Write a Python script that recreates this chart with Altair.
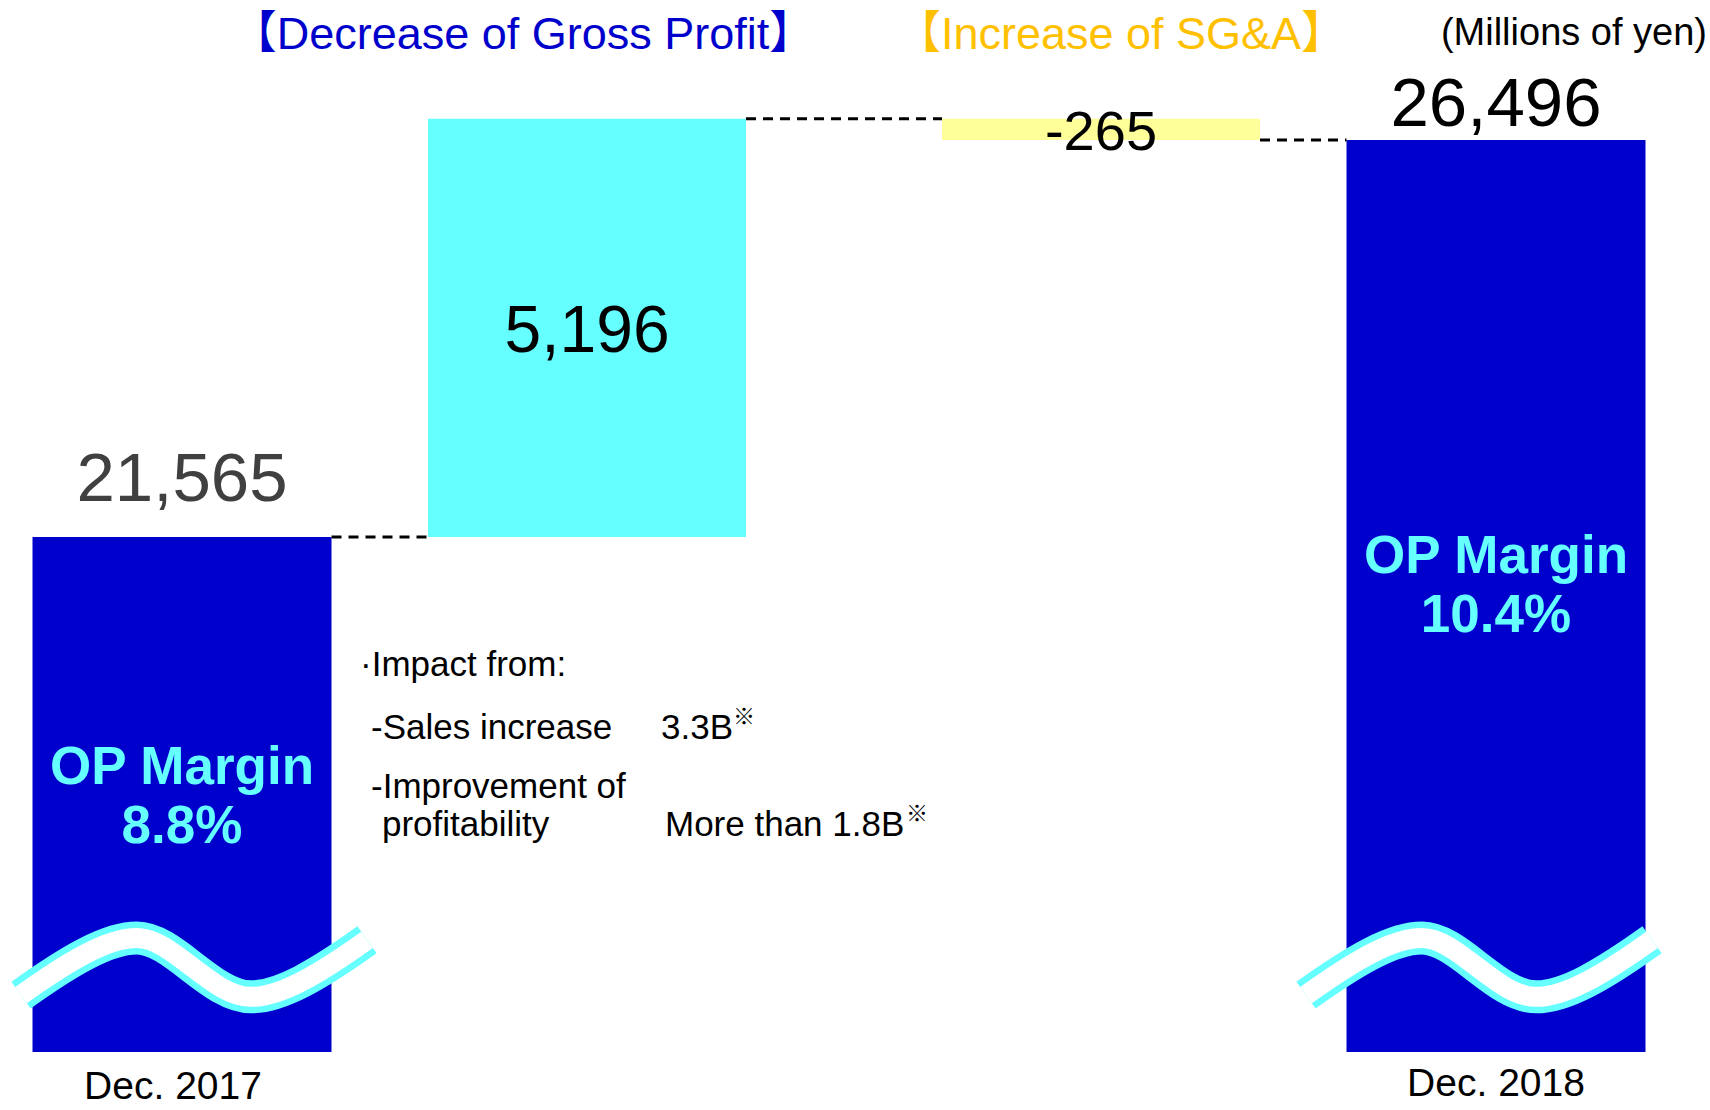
import altair as alt
import pandas as pd

# ---------------- data ----------------
steps = ["Dec. 2017", "Gross Profit", "SG&A", "Dec. 2018"]
total_steps = ["Dec. 2017", "Dec. 2018"]
total_values = [21565, 26496]
total_labels = ["21,565", "26,496"]
op_margins = ["8.8%", "10.4%"]
gross_profit_change = 5196
sga_change = -265
header_texts = ["【Decrease of Gross Profit】", "【Increase of SG&A】"]
header_steps = ["Gross Profit", "SG&A"]
unit_note = "(Millions of yen)"
impact_texts = ["·Impact from:", "-Sales increase", "-Improvement of", "profitability"]
impact_amounts = ["3.3B", "More than 1.8B"]
note_mark = "※"

# derived waterfall levels
gp_start = total_values[0]
gp_end = gp_start + gross_profit_change
sga_end = gp_end + sga_change

# ---------------- styles ----------------
FONT = "Liberation Sans, Noto Sans CJK JP, sans-serif"
BLUE = "#0000CC"
CYAN = "#66FFFF"
YELLOW = "#FFFF99"
ORANGE = "#FFC000"
W, H = 1710, 1052

Y_DOMAIN = [15170, 28235]          # broken axis: bars start at the break
BASE = Y_DOMAIN[0]
BREAK_LEVEL = 16220                # where the break symbol sits

xs = alt.Scale(domain=steps, range=[-37, 1715], paddingInner=0, paddingOuter=0)
ys = alt.Scale(domain=Y_DOMAIN, nice=False, zero=False)

shift = {"Dec. 2017": 0, "Gross Profit": -33, "SG&A": 43, "Dec. 2018": 0}
half = {"Dec. 2017": 149.5, "Gross Profit": 159, "SG&A": 159, "Dec. 2018": 149.5}


def X(field="step"):
    return alt.X(f"{field}:N", scale=xs, axis=None)


def Y(field):
    return alt.Y(f"{field}:Q", scale=ys, axis=None)


layers = []

# total bars (blue)
totals = pd.DataFrame({"step": total_steps, "value": total_values,
                       "label": total_labels, "margin": op_margins})
layers.append(
    alt.Chart(totals).transform_calculate(base=str(BASE))
    .mark_bar(color=BLUE, width=299)
    .encode(x=X(), y=Y("value"), y2=alt.Y2("base"))
)

# change bars
deltas = pd.DataFrame({
    "step": ["Gross Profit", "SG&A"],
    "start": [gp_start, gp_end],
    "end": [gp_end, sga_end],
    "label": [f"{gross_profit_change:,}", f"{sga_change:,}"],
})
delta_colors = [CYAN, YELLOW]
delta_font = [66, 56]
for i in range(len(deltas)):
    row = deltas.iloc[[i]]
    st = row["step"].iloc[0]
    layers.append(
        alt.Chart(row).mark_bar(color=delta_colors[i], width=318, xOffset=shift[st])
        .encode(x=X(), y=Y("start"), y2=alt.Y2("end"))
    )
    layers.append(
        alt.Chart(row).transform_calculate(mid="(datum.start + datum.end) / 2")
        .mark_text(font=FONT, fontSize=delta_font[i], color="#000000", baseline="middle",
                   align="center", xOffset=shift[st], dy=4)
        .encode(x=X(), y=Y("mid"), text="label:N")
    )

# dashed connectors
conn = pd.DataFrame({
    "from": [steps[0], steps[1], steps[2]],
    "to": [steps[1], steps[2], steps[3]],
    "level": [gp_start, gp_end, sga_end],
})
for i in range(len(conn)):
    row = conn.iloc[[i]]
    f, t = row["from"].iloc[0], row["to"].iloc[0]
    layers.append(
        alt.Chart(row).mark_rule(color="#000000", strokeWidth=3, strokeDash=[10, 7],
                                 xOffset=shift[f] + half[f], x2Offset=shift[t] - half[t])
        .encode(x=X("from"), x2=alt.X2("to:N"), y=Y("level"))
    )

# break symbols (waves)
WAVE = ("M -1 0.16 C -0.72 -0.04 -0.5 -0.17 -0.33 -0.17 "
        "C -0.12 -0.17 0.1 0.17 0.33 0.17 "
        "C 0.5 0.17 0.72 0.04 1 -0.16")
wave_dx = [12, -17]
for i in range(len(totals)):
    row = totals.iloc[[i]].assign(level=BREAK_LEVEL)
    for sw, col in [(33, CYAN), (20, "#FFFFFF")]:
        layers.append(
            alt.Chart(row).mark_point(shape=WAVE, size=346 * 346, filled=False, stroke=col,
                                      strokeWidth=sw, strokeCap="butt", opacity=1,
                                      xOffset=wave_dx[i])
            .encode(x=X(), y=Y("level"))
        )

# total value labels
total_dy = [-36, -14]
total_color = ["#404040", "#000000"]
for i in range(len(totals)):
    row = totals.iloc[[i]]
    layers.append(
        alt.Chart(row).mark_text(font=FONT, fontSize=69, color=total_color[i],
                                 align="center", baseline="alphabetic", dy=total_dy[i])
        .encode(x=X(), y=alt.value(0) if False else Y("value"), text="label:N")
    )

# category labels under the total bars
cat_y = [1099, 1096]
cat_dx = [-9, 0]
for i in range(len(totals)):
    row = totals.iloc[[i]]
    layers.append(
        alt.Chart(row).mark_text(font=FONT, fontSize=39, color="#000000",
                                 align="center", baseline="alphabetic", dx=cat_dx[i])
        .encode(x=X(), y=alt.value(cat_y[i]), text="step:N")
    )

# OP margin texts inside total bars (first line position)
op_y = [768, 557]
for i in range(len(totals)):
    row = totals.iloc[[i]].assign(txt=lambda d: "OP Margin\n" + d["margin"])
    layers.append(
        alt.Chart(row).mark_text(font=FONT, fontSize=53, fontWeight="bold", color=CYAN,
                                 align="center", baseline="middle", lineBreak="\n",
                                 lineHeight=59)
        .encode(x=X(), y=alt.value(op_y[i]), text="txt:N")
    )

# headers
header_colors = [BLUE, ORANGE]
header_dx = [-97, 63]
for i in range(len(header_texts)):
    row = pd.DataFrame({"step": [header_steps[i]], "t": [header_texts[i]]})
    layers.append(
        alt.Chart(row).mark_text(font=FONT, fontSize=45, color=header_colors[i],
                                 align="center", baseline="alphabetic", dx=header_dx[i])
        .encode(x=X(), y=alt.value(49), text="t:N")
    )

layers.append(
    alt.Chart(pd.DataFrame({"t": [unit_note]}))
    .mark_text(font=FONT, fontSize=38, color="#000000", align="right", baseline="alphabetic")
    .encode(x=alt.value(1707), y=alt.value(45), text="t:N")
)

# impact annotation block
impact_pos = [(360, 665), (371, 728), (371, 787), (382, 825)]
for txt, (px, py) in zip(impact_texts, impact_pos):
    layers.append(
        alt.Chart(pd.DataFrame({"t": [txt]}))
        .mark_text(font=FONT, fontSize=35, color="#000000", align="left", baseline="middle")
        .encode(x=alt.value(px), y=alt.value(py), text="t:N")
    )
amount_pos = [(661, 728), (665, 825)]
note_pos = [(733, 717), (906, 814)]
for txt, (px, py), (nx, ny) in zip(impact_amounts, amount_pos, note_pos):
    layers.append(
        alt.Chart(pd.DataFrame({"t": [txt]}))
        .mark_text(font=FONT, fontSize=35, color="#000000", align="left", baseline="middle")
        .encode(x=alt.value(px), y=alt.value(py), text="t:N")
    )
    layers.append(
        alt.Chart(pd.DataFrame({"t": [note_mark]}))
        .mark_text(font=FONT, fontSize=22, color="#000000", align="left", baseline="middle")
        .encode(x=alt.value(nx), y=alt.value(ny), text="t:N")
    )

chart = (
    alt.layer(*layers)
    .properties(width=W, height=H,
                padding={"left": 0, "right": 0, "top": 0, "bottom": 58},
                autosize=alt.AutoSizeParams(type="none"),
                background="#FFFFFF")
    .configure_view(strokeWidth=0)
)

chart.save("out.html", embed_options={"renderer": "svg", "actions": False})
